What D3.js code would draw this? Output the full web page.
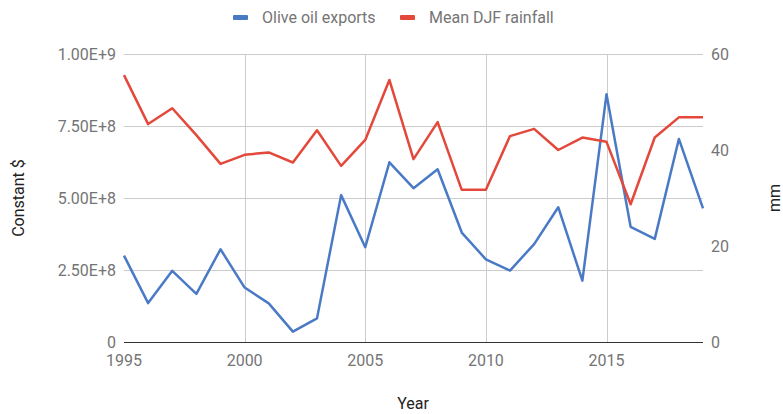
<!DOCTYPE html>
<html><head><meta charset="utf-8">
<script src="https://cdn.jsdelivr.net/npm/d3@7"></script>
<style>body{margin:0;background:#fff;}svg{display:block;font-family:Roboto,sans-serif;}</style>
</head><body><svg id="c" width="783" height="414"></svg>
<script>
const years = [1995,1996,1997,1998,1999,2000,2001,2002,2003,2004,2005,2006,2007,2008,2009,2010,2011,2012,2013,2014,2015,2016,2017,2018,2019];
const exportsVals = [3.0e8,1.35e8,2.47e8,1.67e8,3.22e8,1.89e8,1.34e8,3.6e7,8.2e7,5.1e8,3.29e8,6.24e8,5.34e8,6.0e8,3.8e8,2.87e8,2.48e8,3.4e8,4.68e8,2.13e8,8.6e8,4.0e8,3.58e8,7.05e8,4.64e8];
const rainfall = [55.6,45.4,48.7,43.1,37.1,39.0,39.5,37.4,44.1,36.7,42.1,54.6,38.1,45.8,31.7,31.7,42.9,44.4,40.0,42.6,41.7,28.7,42.6,46.8,46.8];
const xTicks = [1995,2000,2005,2010,2015];
const leftTicks = [0,2.5e8,5e8,7.5e8,1e9];
const leftTickLabels = ["0","2.50E+8","5.00E+8","7.50E+8","1.00E+9"];
const rightTicks = [0,20,40,60];
const seriesNames = ["Olive oil exports","Mean DJF rainfall"];
const colors = ["#4a7ac6","#e4483b"];

const svg = d3.select("#c");
const L=124, R=703, T=54, B=342;
const x = d3.scaleLinear().domain([1995,2019]).range([L,R]);
const yL = d3.scaleLinear().domain([0,1e9]).range([B,T]);
const yR = d3.scaleLinear().domain([0,60]).range([B,T]);
const tickCol = "#757575";
const fs = 16;

// grid
svg.append("g").selectAll("line").data(leftTicks.slice(1)).join("line")
  .attr("x1",L).attr("x2",R).attr("y1",d=>yL(d)+0.5).attr("y2",d=>yL(d)+0.5)
  .attr("stroke","#cccccc").attr("stroke-width",1);
svg.append("g").selectAll("line").data(xTicks.slice(1)).join("line")
  .attr("x1",d=>Math.round(x(d))+0.5).attr("x2",d=>Math.round(x(d))+0.5).attr("y1",T).attr("y2",B)
  .attr("stroke","#cccccc").attr("stroke-width",1);
// baseline
svg.append("line").attr("x1",L).attr("x2",R).attr("y1",B+0.5).attr("y2",B+0.5).attr("stroke","#333").attr("stroke-width",1);

// left axis labels
svg.append("g").selectAll("text").data(leftTicks).join("text")
  .attr("x",L-8).attr("y",d=>yL(d)+5.5).attr("text-anchor","end")
  .attr("font-size",fs).attr("fill",tickCol).text((d,i)=>leftTickLabels[i]);
// right axis labels
svg.append("g").selectAll("text").data(rightTicks).join("text")
  .attr("x",R+8).attr("y",d=>yR(d)+5.5).attr("text-anchor","start")
  .attr("font-size",fs).attr("fill",tickCol).text(d=>d);
// x labels
svg.append("g").selectAll("text").data(xTicks).join("text")
  .attr("x",d=>x(d)).attr("y",B+24).attr("text-anchor","middle")
  .attr("font-size",fs).attr("fill",tickCol).text(d=>d);

// axis titles
svg.append("text").attr("transform","translate(24,198) rotate(-90)").attr("text-anchor","middle")
  .attr("font-size",fs).attr("fill","#222").text("Constant $");
svg.append("text").attr("transform","translate(780,198) rotate(-90)").attr("text-anchor","middle")
  .attr("font-size",fs).attr("fill","#222").text("mm");
svg.append("text").attr("x",413).attr("y",409).attr("text-anchor","middle")
  .attr("font-size",fs).attr("fill","#222").text("Year");

// lines
const lineL = d3.line().x((d,i)=>x(years[i])).y(d=>yL(d));
const lineR = d3.line().x((d,i)=>x(years[i])).y(d=>yR(d));
svg.append("path").attr("d",lineL(exportsVals)).attr("fill","none").attr("stroke",colors[0]).attr("stroke-width",2.5).attr("stroke-linejoin","round");
svg.append("path").attr("d",lineR(rainfall)).attr("fill","none").attr("stroke",colors[1]).attr("stroke-width",2.5).attr("stroke-linejoin","round");

// legend
const lg = [{x:233,tx:262},{x:400,tx:429}];
seriesNames.forEach((n,i)=>{
  svg.append("rect").attr("x",lg[i].x).attr("y",15).attr("width",15).attr("height",5).attr("rx",1).attr("fill",colors[i]);
  svg.append("text").attr("x",lg[i].tx).attr("y",23).attr("font-size",fs).attr("fill",tickCol).text(n);
});
</script></body></html>
